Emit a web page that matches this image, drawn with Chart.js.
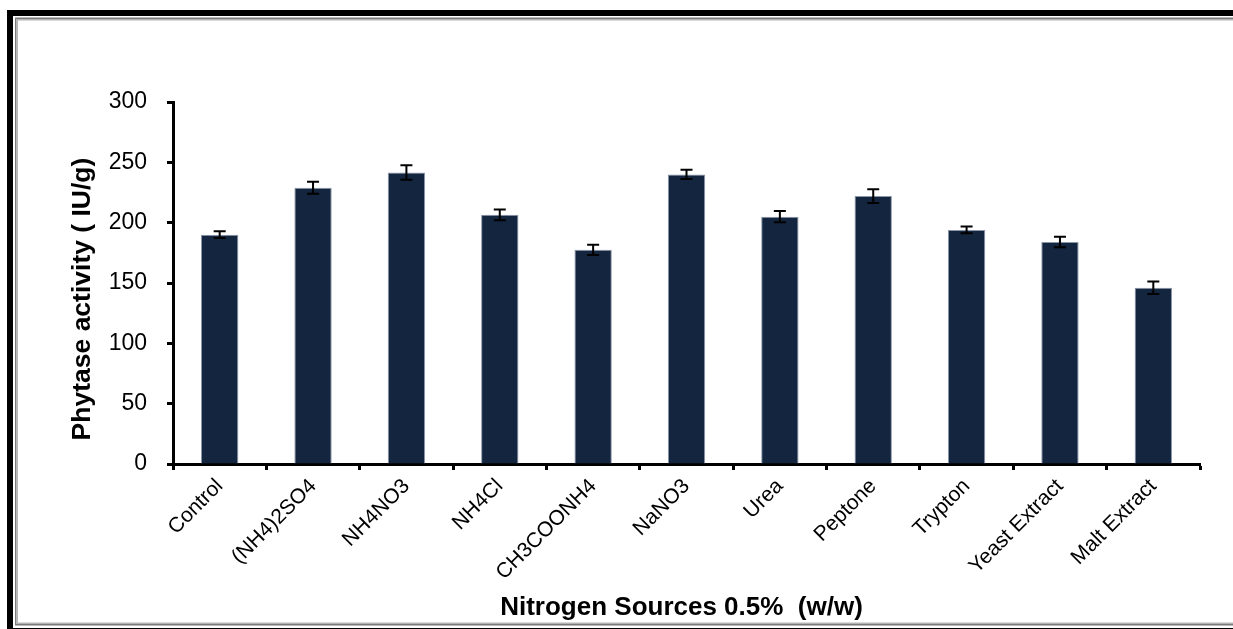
<!DOCTYPE html>
<html>
<head>
<meta charset="utf-8">
<title>Phytase activity by nitrogen source</title>
<script src="https://cdn.jsdelivr.net/npm/chart.js@4.4.1/dist/chart.umd.min.js"></script>
<style>
  html, body { margin: 0; padding: 0; background: #ffffff; }
  #wrap { position: relative; width: 1233px; height: 629px; }
</style>
</head>
<body>
<div id="wrap"><canvas id="chart" width="1233" height="629"></canvas></div>
<script>
// Nitrogen sources tested at 0.5% (w/w)
const categories = ['Control', '(NH4)2SO4', 'NH4NO3', 'NH4Cl', 'CH3COONH4', 'NaNO3',
                    'Urea', 'Peptone', 'Trypton', 'Yeast Extract', 'Malt Extract'];
// Mean phytase activity (IU/g)
const activity = [190, 229, 241.5, 206.5, 177.5, 240, 205, 222, 194, 184, 146];
// Standard deviation of each mean
const errors = [2.8, 5, 6, 4.5, 4.2, 3.9, 4.7, 5.7, 2.8, 4.4, 5.2];
// Value axis ticks
const yTicks = [0, 50, 100, 150, 200, 250, 300];
// Axis titles
const xTitle = 'Nitrogen Sources 0.5%  (w/w)';
const yTitle = 'Phytase activity ( IU/g)';

const FONT = "'Liberation Sans', Arial, Helvetica, sans-serif";

// Double border around the figure
const framePlugin = {
  id: 'frame',
  beforeDraw(chart) {
    const ctx = chart.ctx;
    ctx.save();
    ctx.fillStyle = '#ffffff';
    ctx.fillRect(0, 0, chart.width, chart.height);
    ctx.strokeStyle = '#000000';
    ctx.lineWidth = 6;
    ctx.strokeRect(10, 13, 1400, 618);
    ctx.strokeStyle = '#7a7a7a';
    ctx.lineWidth = 1.5;
    ctx.strokeRect(15.75, 18.25, 1400, 606.5);
    ctx.strokeStyle = '#b4b4b4';
    ctx.lineWidth = 1.5;
    ctx.strokeRect(17.25, 19.75, 1400, 603.5);
    ctx.restore();
  }
};

// Axis titles placed relative to the plot area
const axisTitlePlugin = {
  id: 'axisTitles',
  afterDraw(chart) {
    const ctx = chart.ctx;
    const area = chart.chartArea;
    ctx.save();
    ctx.fillStyle = '#000000';
    ctx.textAlign = 'center';
    ctx.textBaseline = 'middle';
    ctx.font = 'bold 26px ' + FONT;
    ctx.fillText(xTitle, (area.left + area.right) / 2 - 5, 608);
    ctx.translate(83, (area.top + area.bottom) / 2 + 16);
    ctx.rotate(-Math.PI / 2);
    ctx.font = 'bold 26.5px ' + FONT;
    ctx.fillText(yTitle, 0, 0);
    ctx.restore();
  }
};

// Error bars drawn through the value scale
const errorBarPlugin = {
  id: 'errorBars',
  afterDatasetsDraw(chart) {
    const ctx = chart.ctx;
    const y = chart.scales.y;
    const meta = chart.getDatasetMeta(0);
    ctx.save();
    ctx.strokeStyle = '#000000';
    ctx.lineWidth = 2;
    meta.data.forEach((bar, i) => {
      const x = bar.x;
      const hi = y.getPixelForValue(activity[i] + errors[i]);
      const lo = y.getPixelForValue(activity[i] - errors[i]);
      const cap = 6;
      ctx.beginPath();
      ctx.moveTo(x, hi); ctx.lineTo(x, lo);
      ctx.moveTo(x - cap, hi); ctx.lineTo(x + cap, hi);
      ctx.moveTo(x - cap, lo); ctx.lineTo(x + cap, lo);
      ctx.stroke();
    });
    ctx.restore();
  }
};

new Chart(document.getElementById('chart'), {
  type: 'bar',
  data: {
    labels: categories,
    datasets: [{
      data: activity,
      backgroundColor: '#13253f',
      borderColor: '#8a96a8',
      borderWidth: { top: 1, left: 1, right: 1, bottom: 0 },
      categoryPercentage: 0.4,
      barPercentage: 1.0
    }]
  },
  options: {
    responsive: false,
    animation: false,
    devicePixelRatio: 1,
    layout: { padding: { left: 68, top: 102, right: 33, bottom: 6 } },
    plugins: { legend: { display: false }, tooltip: { enabled: false } },
    scales: {
      x: {
        offset: true,
        grid: {
          offset: true,
          drawOnChartArea: false,
          drawTicks: true,
          tickLength: 6,
          tickWidth: 3,
          tickColor: '#000000'
        },
        border: { display: true, color: '#000000', width: 3 },
        ticks: {
          color: '#000000',
          font: { family: FONT, size: 21 },
          minRotation: 45,
          maxRotation: 45,
          padding: 4,
          autoSkip: false
        },
        title: { display: false },
        afterFit(scale) { scale.height = 159; }
      },
      y: {
        min: 0,
        max: 300,
        afterBuildTicks(scale) { scale.ticks = yTicks.map(v => ({ value: v })); },
        grid: {
          drawOnChartArea: false,
          drawTicks: true,
          tickLength: 6,
          tickWidth: 3,
          tickColor: '#000000'
        },
        border: { display: true, color: '#000000', width: 3 },
        ticks: {
          color: '#000000',
          font: { family: FONT, size: 23 },
          padding: 20
        },
        title: { display: false },
        afterFit(scale) { scale.width = 105; }
      }
    }
  },
  plugins: [framePlugin, axisTitlePlugin, errorBarPlugin]
});
</script>
</body>
</html>
